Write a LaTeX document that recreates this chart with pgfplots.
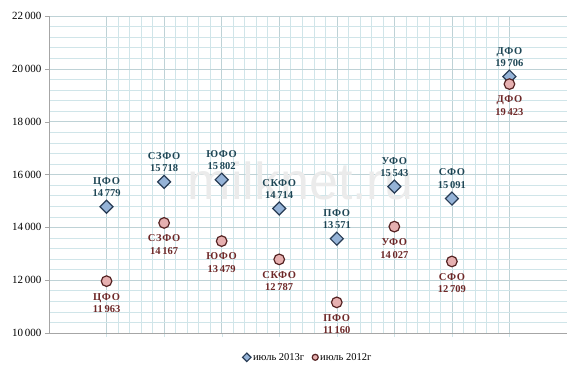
\documentclass[border=0pt]{standalone}
\usepackage{fontspec}
\setmainfont{Liberation Serif}
\newfontfamily\wmfont{Liberation Sans}
\newfontfamily\labfont[LetterSpace=6]{Liberation Serif}
\usepackage{pgfplots}
\pgfplotsset{compat=1.18}
\definecolor{gridminor}{RGB}{208,229,233}
\definecolor{gridmajor}{RGB}{190,210,214}
\definecolor{lab13}{RGB}{30,70,85}
\definecolor{lab12}{RGB}{110,40,40}
\definecolor{fill13}{RGB}{149,179,215}
\definecolor{edge13}{RGB}{40,60,85}
\definecolor{fill12}{RGB}{230,176,176}
\definecolor{edge12}{RGB}{85,35,35}
\begin{document}
\begin{tikzpicture}
\begin{axis}[
  name=ax,
  scale only axis, width=518pt, height=317pt,
  xmin=0, xmax=9, ymin=10000, ymax=22000,
  xtick={1,...,8}, xticklabels={}, 
  minor x tick num=4,
  ytick={10000,12000,...,22000},
  minor y tick num=4,
  grid=both,
  major grid style={draw=gridmajor, line width=0.5pt},
  minor grid style={draw=gridminor, line width=0.5pt},
  axis x line*=bottom, axis y line*=left,
  axis line style={draw=gray!70, line width=0.6pt},
  tick style={draw=gray!70},
  minor tick length=0pt,
  major tick length=4pt,
  tick align=outside,
  xtick style={draw=gridminor},
  yticklabel style={font=\fontsize{11}{13}\selectfont},
  /pgf/number format/assume math mode=true,
  /pgf/number format/1000 sep={\,},
  scaled y ticks=false,
  clip=false,
  legend style={at={(0.5,-0.05)}, anchor=north, draw=none, fill=none,
     font=\fontsize{10.5}{12}\selectfont, legend columns=2,
     /tikz/every even column/.append style={column sep=6pt}},
  legend image code/.code={\draw[#1,mark size=3pt] plot coordinates {(0pt,0pt)};},
  point meta=explicit symbolic,
  visualization depends on={y \as \yval},
  nodes near coords={\labfont\pgfplotspointmeta\\\pgfmathprintnumber[assume math mode=true,1000 sep={\,}]{\yval}},
]
\node[font=\wmfont\fontsize{52}{52}\selectfont, text=black!8] at (axis cs:4.37,15750) {milknet.ru};
\addplot[only marks, mark=square*, mark size=4.6pt, mark options={rotate=45, fill=fill13, draw=edge13, line width=1.2pt},
  nodes near coords style={align=center, font=\bfseries\fontsize{10.5}{12.5}\selectfont, text=lab13, anchor=south, yshift=6pt}]
 coordinates {(1,14779)[ЦФО] (2,15718)[СЗФО] (3,15802)[ЮФО] (4,14714)[СКФО] (5,13571)[ПФО] (6,15543)[УФО] (7,15091)[СФО] (8,19706)[ДФО]};
\addlegendentry{июль 2013г}
\addplot[only marks, mark=*, mark size=5.3pt, mark options={fill=fill12, draw=edge12, line width=1.2pt},
  nodes near coords style={align=center, font=\bfseries\fontsize{10.5}{12.5}\selectfont, text=lab12, anchor=north, yshift=-8pt}]
 coordinates {(1,11963)[ЦФО] (2,14167)[СЗФО] (3,13479)[ЮФО] (4,12787)[СКФО] (5,11160)[ПФО] (6,14027)[УФО] (7,12709)[СФО] (8,19423)[ДФО]};
\addlegendentry{июль 2012г}
\end{axis}
\pgfresetboundingbox
\path[use as bounding box] ([xshift=-49pt,yshift=-45pt]ax.south west) rectangle ([xshift=17pt,yshift=16pt]ax.north east);
\end{tikzpicture}
\end{document}
